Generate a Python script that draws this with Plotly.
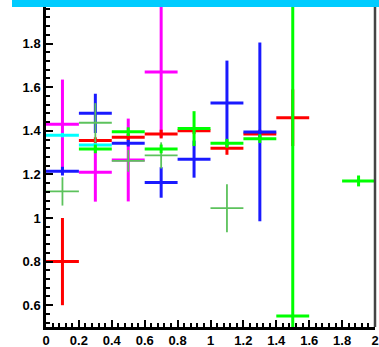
import plotly.graph_objects as go

# Bin centres share a half-width of 0.1 on the x axis
half_width = 0.1

red_x = [0.1, 0.3, 0.5, 0.7, 0.9, 1.1, 1.3, 1.5]
red_y = [0.80, 1.355, 1.37, 1.385, 1.40, 1.32, 1.385, 1.46]
red_e = [0.20, 0.015, 0.015, 0.02, 0.015, 0.03, 0.02, 0.13]

blue_x = [0.1, 0.3, 0.5, 0.7, 0.9, 1.1, 1.3]
blue_y = [1.215, 1.48, 1.343, 1.163, 1.27, 1.527, 1.395]
blue_e = [0.02, 0.09, 0.015, 0.07, 0.085, 0.195, 0.41]

magenta_x = [0.1, 0.3, 0.5, 0.7]
magenta_y = [1.43, 1.21, 1.266, 1.67]
magenta_e = [0.205, 0.135, 0.19, 0.30]

cyan_x = [0.1, 0.3]
cyan_y = [1.38, 1.335]
cyan_e = [0.01, 0.01]

green_x = [0.3, 0.5, 0.7, 0.9, 1.1, 1.3, 1.5, 1.9]
green_y = [1.317, 1.396, 1.317, 1.41, 1.343, 1.364, 0.55, 1.17]
green_e = [0.02, 0.02, 0.02, 0.08, 0.02, 0.02, 1.5, 0.025]

dgreen_x = [0.1, 0.3, 0.5, 0.7, 1.1]
dgreen_y = [1.122, 1.437, 1.262, 1.287, 1.045]
dgreen_e = [0.065, 0.09, 0.05, 0.06, 0.11]

x_ticks = [0, 0.2, 0.4, 0.6, 0.8, 1, 1.2, 1.4, 1.6, 1.8, 2]
y_ticks = [0.6, 0.8, 1, 1.2, 1.4, 1.6, 1.8]

series = [
    (magenta_x, magenta_y, magenta_e, "#ff00ff", 3),
    (red_x, red_y, red_e, "#ff0000", 3),
    (cyan_x, cyan_y, cyan_e, "#00ffff", 3),
    (blue_x, blue_y, blue_e, "#1a1aff", 3),
    (dgreen_x, dgreen_y, dgreen_e, "#5cc25c", 1.8),
    (green_x, green_y, green_e, "#00ff00", 3),
]

fig = go.Figure()
for xs, ys, es, color, lw in series:
    fig.add_trace(go.Scatter(
        x=xs, y=ys, mode="markers",
        marker=dict(size=1, color=color),
        error_x=dict(type="constant", value=half_width, color=color,
                     thickness=lw, width=0),
        error_y=dict(type="data", array=es, color=color,
                     thickness=lw, width=0),
        showlegend=False,
    ))

tick_font = dict(family="Liberation Sans, Arial, sans-serif", size=13,
                 color="black", weight="bold")

fig.update_xaxes(
    range=[0, 2], tickvals=x_ticks, ticktext=[f"{v:g}" for v in x_ticks],
    ticks="inside", ticklen=7, tickwidth=2, tickcolor="black",
    minor=dict(ticks="inside", ticklen=4, tickwidth=1.5, tickcolor="black", dtick=0.04),
    showline=True, linecolor="black", linewidth=2.5,
    showgrid=False, zeroline=False, tickfont=tick_font,
)
fig.update_yaxes(
    range=[0.5, 2.0], tickvals=y_ticks, ticktext=[f"{v:g}" for v in y_ticks],
    ticks="inside", ticklen=7, tickwidth=2, tickcolor="black",
    minor=dict(ticks="inside", ticklen=4, tickwidth=1.5, tickcolor="black", dtick=0.04),
    showline=True, linecolor="black", linewidth=2.5,
    showgrid=False, zeroline=False, tickfont=tick_font,
)

fig.update_layout(
    width=379, height=347,
    margin=dict(l=46, r=4, t=0, b=20),
    paper_bgcolor="white", plot_bgcolor="white",
    shapes=[
        # right frame edge
        dict(type="line", xref="paper", yref="paper", x0=1, x1=1, y0=0, y1=1,
             line=dict(color="#444444", width=2.5)),
        # banner strip across the top
        dict(type="rect", xref="paper", yref="paper",
             x0=(12 - 46) / 329, x1=1 + 4 / 329, y0=1 - 7 / 327, y1=1.01,
             fillcolor="#00ccff", line=dict(width=0), layer="above"),
    ],
)

fig.write_html("out.html")
